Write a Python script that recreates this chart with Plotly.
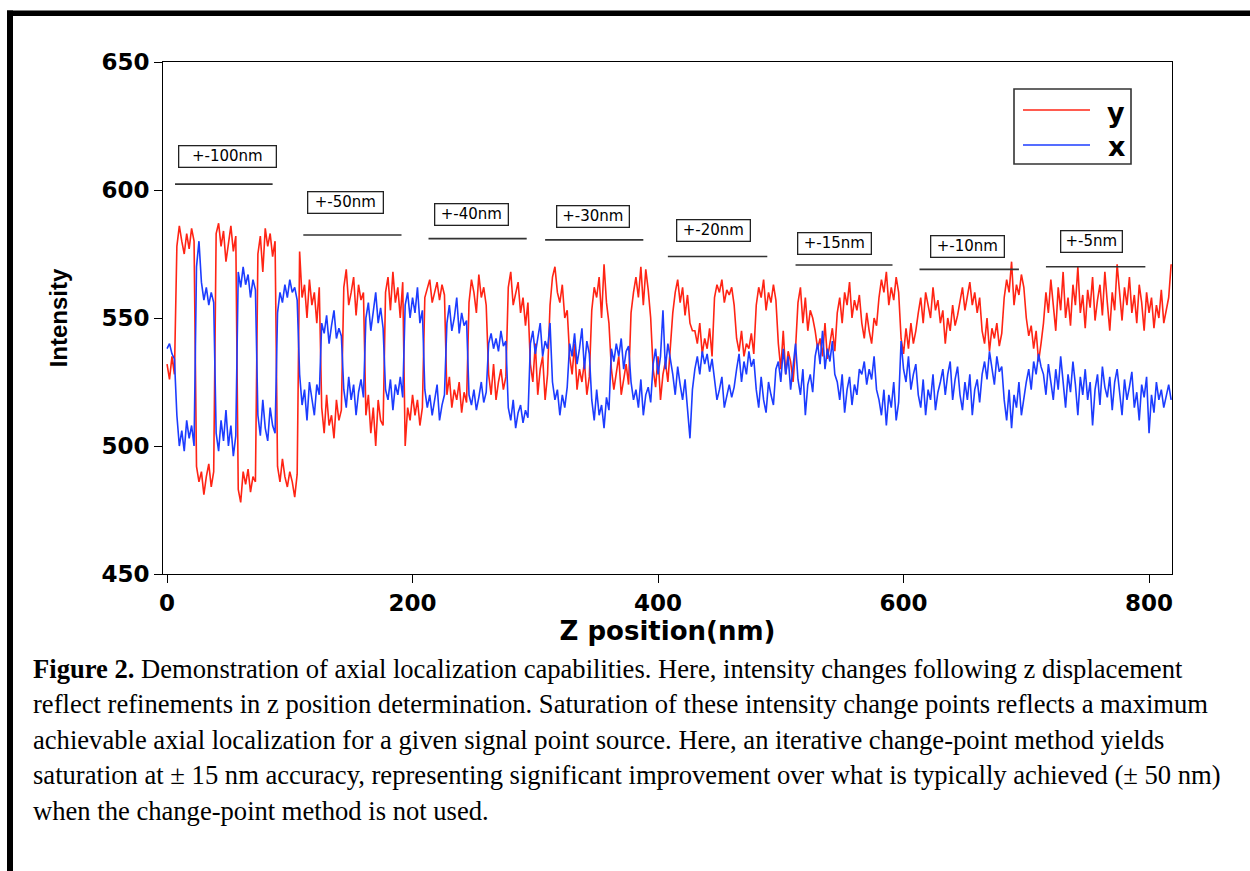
import plotly.graph_objects as go

# ---------------- data (2 nm sampling) ----------------
# y channel (red) and x channel (blue), per step-size region
y_100 = [532, 526, 535, 528,
         578, 586, 580, 575, 583, 577, 585, 580,
         492, 486, 490, 481, 488, 493, 484, 490,
         583, 587, 578, 584, 572, 580, 586, 576, 582,
         483, 478, 490, 485, 491, 482, 488, 486,
         575, 582, 568, 585, 578, 583, 574, 580,
         492, 486, 495, 488, 484, 490, 486, 480, 489]
x_100 = [538, 540, 536, 534,
         512, 500, 506, 498, 510, 503, 508, 500,
         570, 580, 564, 557, 562, 555, 560, 556,
         505, 498, 510, 502, 514, 500, 508, 496, 504,
         568, 562, 570, 563, 567, 558, 565, 561,
         512, 504, 518, 507, 502, 515, 508, 505,
         552, 560, 556, 563, 558, 565, 560, 562, 557]

y_50 = [576, 558, 563, 550, 565, 555, 560, 548, 562,
        515, 505, 520, 508, 512, 503, 518, 510, 514,
        562, 569, 555, 560, 566, 551, 563, 557, 560,
        512, 520, 505, 515, 500, 518, 510, 508,
        560, 566, 553, 568, 556, 562, 550, 564,
        500, 515, 510, 520, 512, 518, 508, 515]
x_50 = [528, 516, 522, 510, 525, 518, 512, 524, 520,
        548, 544, 551, 540, 547, 553, 542, 546, 543,
        522, 515, 527, 518, 524, 512, 521, 526, 519,
        550, 556, 545, 552, 560, 548, 554, 546,
        522, 518, 526, 514, 524, 520, 527, 519,
        555, 560, 550, 558, 552, 562, 548, 553]

y_40 = [558, 562, 565, 556, 560, 564, 557, 563, 559,
        520, 527, 515, 522, 518, 525, 513, 521, 517,
        556, 565, 560, 552, 567, 558, 562, 555,
        528, 520, 532, 518, 525, 530, 522, 527,
        562, 568, 555, 560, 564, 552, 558, 547, 556,
        532, 525, 540, 520, 530, 535, 518, 528]
x_40 = [522, 515, 520, 512, 518, 524, 510, 516, 520,
        548, 555, 545, 550, 558, 544, 552, 547, 549,
        520, 516, 522, 514, 519, 525, 517, 521,
        540, 544, 538, 542, 537, 545, 539, 541,
        515, 510, 518, 507, 513, 516, 509, 514, 511,
        540, 545, 536, 542, 548, 535, 541, 538]

y_30 = [555, 566, 570, 560, 556, 563, 550, 553,
        535, 528, 540, 522, 530, 525, 533, 520, 527,
        553, 562, 558, 566, 550, 571, 556, 548,
        530, 522, 528, 535, 520, 526, 532, 524,
        552, 560, 566, 558, 570, 555, 569, 561, 550]
x_30 = [548, 525, 518, 522, 512, 520, 515, 523,
        540, 535, 544, 532, 538, 546, 530, 541, 536,
        518, 510, 522, 512, 516, 507, 519, 514,
        538, 533, 540, 535, 542, 530, 537, 539,
        525, 518, 522, 515, 526, 512, 520, 523, 517]

y_20 = [530, 523, 535, 518, 528, 533, 525, 538,
        552, 560, 565, 556, 562, 551, 559, 548, 545,
        545, 540, 548, 536, 542, 538, 546, 535,
        558, 563, 560, 565, 556, 561, 559, 562, 555,
        542, 537, 545, 535, 540, 538, 544, 536,
        555, 562, 558, 565, 553, 560, 556, 563, 557]
x_20 = [532, 538, 528, 535, 553, 530, 540, 534,
        528, 520, 531, 524, 518, 526, 515, 503, 522,
        530, 535, 528, 537, 532, 536, 529, 534,
        525, 518, 522, 527, 515, 520, 524, 519, 523,
        530, 536, 525, 533, 528, 537, 531, 534,
        522, 515, 527, 518, 513, 525, 520, 516, 530]

y_15 = [540, 530, 545, 528, 537, 533, 525, 538,
        556, 562, 548, 558, 545, 553, 550,
        545, 538, 542, 535, 548, 534, 540, 546, 537,
        552, 558, 548, 560, 555, 564, 550, 557, 553, 559,
        548, 542, 552, 545, 540, 550, 547,
        558, 565, 560, 568, 555, 562, 557, 566, 560]
x_15 = [533, 525, 538, 528, 535, 522, 530, 540,
        526, 520, 530, 512, 524, 528, 521,
        535, 540, 532, 545, 530, 538, 533, 541, 528,
        525, 518, 528, 513, 522, 527, 516, 524, 520, 530,
        528, 533, 524, 530, 526, 535, 522,
        518, 512, 522, 508, 520, 515, 525, 510, 517]

y_10 = [542, 536, 546, 538, 548, 540, 545,
        552, 558, 548, 560, 555, 550, 562, 553, 557,
        548, 553, 540, 550, 545, 555, 547, 551,
        557, 562, 553, 559, 564, 555, 560, 552, 558,
        545, 540, 550, 537, 546, 542, 548, 539, 544,
        558, 565, 560, 572, 555, 563, 559, 567, 562]
x_10 = [541, 530, 525, 535, 522, 528, 532,
        520, 515, 526, 512, 522, 518, 528, 514, 521,
        525, 530, 520, 528, 533, 518, 526, 531,
        520, 514, 525, 518, 528, 512, 522, 526, 517,
        528, 533, 526, 537, 530, 524, 535, 529, 531,
        518, 510, 522, 507, 520, 515, 525, 512, 519]

y_5 = [550, 543, 547, 538, 545, 533, 540,
       548, 560, 552, 565, 556, 545, 562, 553, 568, 550, 558, 547, 563, 555,
       570, 552, 559, 546, 561, 554, 566, 549, 557, 563, 551, 568, 556, 545,
       560, 553, 571, 558, 549, 562, 555, 566, 552, 559, 548, 563, 556, 545,
       560, 552, 558, 546, 555, 550, 561, 548, 553, 558, 571]
x_5 = [525, 530, 522, 533, 528, 536, 531,
       528, 520, 532, 525, 518, 530, 522, 535, 526, 515, 528, 521, 533, 524,
       512, 527, 520, 530, 518, 525, 508, 522, 528, 516, 531, 523, 519, 527,
       514, 525, 530, 520, 512, 526, 518, 523, 529, 515, 521, 510, 524, 519,
       527, 505, 520, 513, 525, 518, 522, 515, 520, 524, 518]

y_signal = y_100 + y_50 + y_40 + y_30 + y_20 + y_15 + y_10 + y_5
x_signal = x_100 + x_50 + x_40 + x_30 + x_20 + x_15 + x_10 + x_5
z_pos = list(range(0, 2 * len(y_signal), 2))   # sample positions, 2 nm apart

x_ticks = [0, 200, 400, 600, 800]
y_ticks = [450, 500, 550, 600, 650]

region_labels = ["+-100nm", "+-50nm", "+-40nm", "+-30nm",
                 "+-20nm", "+-15nm", "+-10nm", "+-5nm"]

caption_lines = [
    "<b>Figure 2.</b> Demonstration of axial localization capabilities. Here, intensity changes following z displacement",
    "reflect refinements in z position determination. Saturation of these intensity change points reflects a maximum",
    "achievable axial localization for a given signal point source. Here, an iterative change-point method yields",
    "saturation at \u00b1 15 nm accuracy, representing significant improvement over what is typically achieved (\u00b1 50 nm)",
    "when the change-point method is not used.",
]

# ---------------- layout / style ----------------
RED = "#ff2414"
BLUE = "#1c3cff"
W, H = 1250, 871
PL, PR, PT, PB = 163, 1172, 62, 574   # plot area in pixels
XR = [-3.3, 818.7]
YR = [450, 650]


def px(xp):
    return (xp - PL) / (PR - PL)


def py(yp):
    return (PB - yp) / (PB - PT)


# label placement (data coords) and box widths (px)
lab_x = [49, 145, 248, 347, 445, 544, 652, 753]
lab_y = [613, 595, 590.6, 589.5, 584, 579, 578, 579.7]
lab_w = [98, 76, 74, 73, 74, 74, 74, 62]
bar_x0 = [6.5, 111, 213, 308, 408, 512, 613, 716]
bar_x1 = [86, 191, 293, 388, 489, 591, 694, 797]
bar_y = [602.3, 582.4, 581, 580.5, 574, 570.7, 569, 570]

fig = go.Figure()
fig.add_trace(go.Scatter(x=z_pos, y=y_signal, mode="lines", name="y",
                         line=dict(color=RED, width=1.6), showlegend=False))
fig.add_trace(go.Scatter(x=z_pos, y=x_signal, mode="lines", name="x",
                         line=dict(color=BLUE, width=1.6), showlegend=False))

shapes = []
annotations = []

for i, lab in enumerate(region_labels):
    shapes.append(dict(type="line", xref="x", yref="y", x0=bar_x0[i], x1=bar_x1[i],
                       y0=bar_y[i], y1=bar_y[i], line=dict(color="#333333", width=1.6)))
    annotations.append(dict(x=lab_x[i], y=lab_y[i], xref="x", yref="y", text=lab,
                            showarrow=False, font=dict(family="DejaVu Sans", size=15, color="black"),
                            bordercolor="#222222", borderwidth=1.3, borderpad=1,
                            width=lab_w[i] - 4, height=18, bgcolor="white"))

# legend (drawn)
shapes.append(dict(type="rect", xref="paper", yref="paper", x0=px(1014), x1=px(1131),
                   y0=py(164), y1=py(89), line=dict(color="#333333", width=1.6)))
shapes.append(dict(type="line", xref="paper", yref="paper", x0=px(1023), x1=px(1090),
                   y0=py(110), y1=py(110), line=dict(color=RED, width=1.3)))
shapes.append(dict(type="line", xref="paper", yref="paper", x0=px(1023), x1=px(1090),
                   y0=py(145), y1=py(145), line=dict(color=BLUE, width=1.3)))
for name, yp in [("y", 112), ("x", 146)]:
    annotations.append(dict(x=px(1116), y=py(yp), xref="paper", yref="paper", text=name,
                            showarrow=False, xanchor="center", yanchor="middle",
                            font=dict(family="DejaVu Sans", size=27, color="black", weight="bold")))

# page frame bars (top and left)
shapes.append(dict(type="rect", xref="paper", yref="paper", x0=px(7), x1=px(1252),
                   y0=py(16), y1=py(10.5), fillcolor="black", line=dict(width=0)))
shapes.append(dict(type="rect", xref="paper", yref="paper", x0=px(7), x1=px(13),
                   y0=py(873), y1=py(10.5), fillcolor="black", line=dict(width=0)))

# caption
cap_y = [669, 704, 740, 775, 811]
for line, yp in zip(caption_lines, cap_y):
    annotations.append(dict(x=px(31), y=py(yp), xref="paper", yref="paper", text=line,
                            showarrow=False, xanchor="left", yanchor="middle",
                            font=dict(family="Liberation Serif", size=26.6, color="black")))

fig.update_layout(
    width=W, height=H,
    margin=dict(l=PL, r=W - PR, t=PT, b=H - PB, pad=0),
    paper_bgcolor="white", plot_bgcolor="white",
    shapes=shapes, annotations=annotations,
    xaxis=dict(range=XR, tickvals=x_ticks, ticks="outside", ticklen=8, tickwidth=1,
               tickcolor="black", showline=True, linecolor="black", linewidth=1,
               mirror=True, showgrid=False, zeroline=False,
               tickfont=dict(family="DejaVu Sans", size=23, color="black", weight="bold"),
               title=dict(text="Z position(nm)", standoff=6,
                          font=dict(family="DejaVu Sans", size=26, color="black", weight="bold"))),
    yaxis=dict(range=YR, tickvals=y_ticks, ticks="outside", ticklen=8, tickwidth=1,
               tickcolor="black", showline=True, linecolor="black", linewidth=1,
               mirror=True, showgrid=False, zeroline=False,
               tickfont=dict(family="DejaVu Sans", size=23, color="black", weight="bold"),
               title=dict(text="Intensity", standoff=26,
                          font=dict(family="Liberation Sans", size=24, color="black", weight="bold"))),
)

fig.write_html("out.html")
